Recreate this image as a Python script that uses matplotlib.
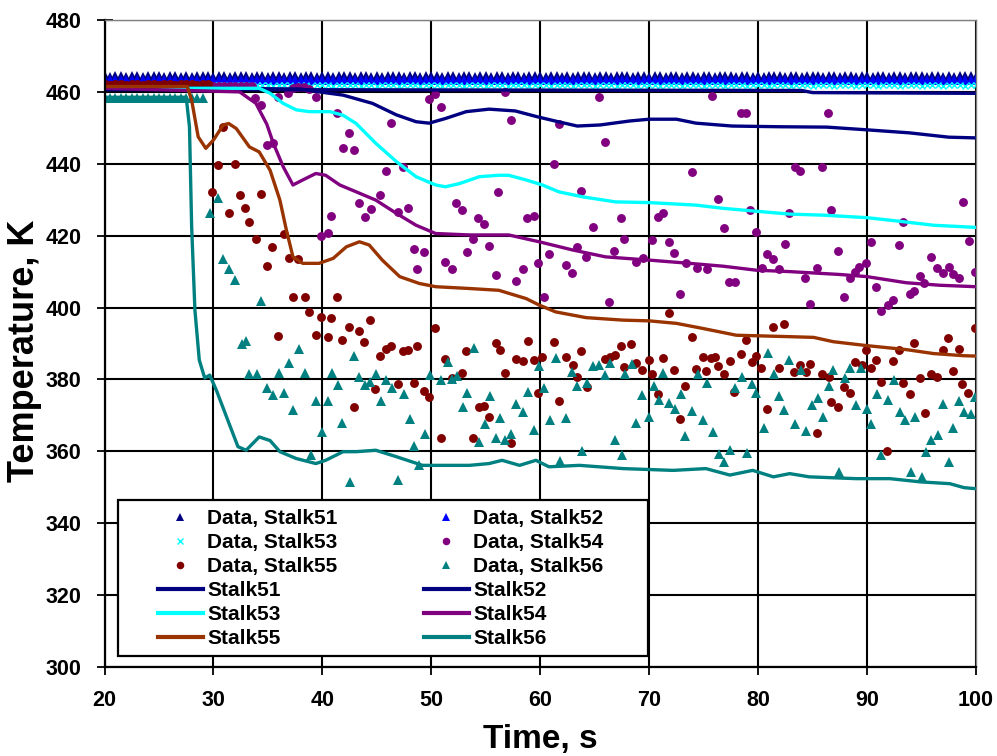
import numpy as np
import matplotlib
matplotlib.use("Agg")
import matplotlib.pyplot as plt
from matplotlib.patches import Rectangle

plt.rcParams['font.family'] = ['Liberation Sans', 'DejaVu Sans']
plt.rcParams['font.weight'] = 'bold'

# ---------------- measured thermocouple data ----------------
# steady upper band, sampled every 0.5 s from 20 s to 100 s
band_t = np.arange(20.0, 100.01, 0.5)
data51_T = [
    464.3, 464.2, 464.4, 464.3, 464.1, 464.3, 464.4, 464.2, 464.3, 464.5,
    464.3, 464.2, 464.3, 464.4, 464.2, 464.3, 464.1, 464.3, 464.4, 464.3,
    464.2, 464.4, 464.3, 464.2, 464.3, 464.5, 464.3, 464.2, 464.4, 464.3,
    464.1, 464.3, 464.4, 464.2, 464.3, 464.3, 464.2, 464.4, 464.3, 464.2,
    464.3, 464.4, 464.2, 464.3, 464.5, 464.3, 464.2, 464.3, 464.4, 464.2,
    464.3, 464.1, 464.3, 464.4, 464.3, 464.2, 464.4, 464.3, 464.2, 464.3,
    464.4, 464.3, 464.2, 464.4, 464.3, 464.1, 464.3, 464.4, 464.2, 464.3,
    464.3, 464.2, 464.4, 464.3, 464.2, 464.3, 464.4, 464.2, 464.3, 464.5,
    464.3, 464.2, 464.3, 464.4, 464.2, 464.3, 464.1, 464.3, 464.4, 464.3,
    464.2, 464.4, 464.3, 464.2, 464.3, 464.4, 464.3, 464.2, 464.4, 464.3,
    464.1, 464.3, 464.4, 464.2, 464.3, 464.3, 464.2, 464.4, 464.3, 464.2,
    464.3, 464.4, 464.2, 464.3, 464.4, 464.3, 464.2, 464.3, 464.4, 464.2,
    464.3, 464.1, 464.3, 464.4, 464.3, 464.2, 464.4, 464.3, 464.2, 464.3,
    464.4, 464.3, 464.2, 464.4, 464.3, 464.1, 464.3, 464.4, 464.2, 464.3,
    464.3, 464.2, 464.4, 464.3, 464.2, 464.3, 464.4, 464.2, 464.3, 464.4,
    464.3, 464.2, 464.3, 464.4, 464.2, 464.3, 464.1, 464.3, 464.4, 464.3,
    464.2,
]
data52_T = [
    463.3, 463.4, 463.2, 463.3, 463.4, 463.3, 463.2, 463.4, 463.3, 463.3,
    463.4, 463.2, 463.3, 463.3, 463.4, 463.2, 463.3, 463.4, 463.3, 463.2,
    463.3, 463.3, 463.4, 463.2, 463.3, 463.4, 463.3, 463.2, 463.3, 463.4,
    463.3, 463.2, 463.4, 463.3, 463.3, 463.2, 463.4, 463.3, 463.2, 463.3,
    463.4, 463.3, 463.2, 463.3, 463.4, 463.3, 463.3, 463.2, 463.4, 463.3,
    463.2, 463.3, 463.4, 463.3, 463.2, 463.3, 463.3, 463.4, 463.2, 463.3,
    463.4, 463.3, 463.2, 463.3, 463.4, 463.3, 463.2, 463.4, 463.3, 463.3,
    463.2, 463.3, 463.4, 463.3, 463.2, 463.3, 463.4, 463.3, 463.2, 463.3,
    463.3, 463.4, 463.2, 463.3, 463.4, 463.3, 463.2, 463.3, 463.4, 463.3,
    463.2, 463.4, 463.3, 463.3, 463.2, 463.3, 463.4, 463.3, 463.2, 463.3,
    463.4, 463.3, 463.2, 463.3, 463.3, 463.4, 463.2, 463.3, 463.4, 463.3,
    463.2, 463.3, 463.4, 463.3, 463.2, 463.4, 463.3, 463.3, 463.2, 463.3,
    463.4, 463.3, 463.2, 463.3, 463.4, 463.3, 463.2, 463.3, 463.3, 463.4,
    463.2, 463.3, 463.4, 463.3, 463.2, 463.3, 463.4, 463.3, 463.2, 463.4,
    463.3, 463.3, 463.2, 463.3, 463.4, 463.3, 463.2, 463.3, 463.4, 463.3,
    463.2, 463.3, 463.3, 463.4, 463.2, 463.3, 463.4, 463.3, 463.2, 463.3,
    463.4,
]
data53_T = [
    461.8, 461.9, 461.7, 461.8, 461.9, 461.8, 461.7, 461.9, 461.8, 461.8,
    461.9, 461.7, 461.8, 461.8, 461.9, 461.7, 461.8, 461.9, 461.8, 461.7,
    461.8, 461.8, 461.9, 461.7, 461.8, 461.9, 461.8, 461.7, 461.8, 461.9,
    461.8, 461.7, 461.9, 461.8, 461.8, 461.7, 461.9, 461.8, 461.7, 461.8,
    461.9, 461.8, 461.7, 461.8, 461.9, 461.8, 461.8, 461.7, 461.9, 461.8,
    461.7, 461.8, 461.9, 461.8, 461.7, 461.8, 461.8, 461.9, 461.7, 461.8,
    461.9, 461.8, 461.7, 461.8, 461.9, 461.8, 461.7, 461.9, 461.8, 461.8,
    461.7, 461.8, 461.9, 461.8, 461.7, 461.8, 461.9, 461.8, 461.7, 461.8,
    461.8, 461.9, 461.7, 461.8, 461.9, 461.8, 461.7, 461.8, 461.9, 461.8,
    461.7, 461.9, 461.8, 461.8, 461.7, 461.8, 461.9, 461.8, 461.7, 461.8,
    461.9, 461.8, 461.7, 461.8, 461.8, 461.9, 461.7, 461.8, 461.9, 461.8,
    461.7, 461.8, 461.9, 461.8, 461.7, 461.9, 461.8, 461.8, 461.7, 461.8,
    461.9, 461.8, 461.7, 461.8, 461.9, 461.8, 461.7, 461.8, 461.8, 461.9,
    461.7, 461.8, 461.9, 461.8, 461.7, 461.8, 461.9, 461.8, 461.7, 461.9,
    461.8, 461.8, 461.7, 461.8, 461.9, 461.8, 461.7, 461.8, 461.9, 461.8,
    461.7, 461.8, 461.8, 461.9, 461.7, 461.8, 461.9, 461.8, 461.7, 461.8,
    461.9,
]

# steady readings of stalks 54-56 before the transient
pre54_t = np.arange(20.0, 33.51, 0.5)
pre54_T = [461.6, 461.7, 461.5, 461.6, 461.7, 461.6, 461.5, 461.7, 461.6, 461.6,
           461.7, 461.5, 461.6, 461.6, 461.7, 461.5, 461.6, 461.7, 461.6, 461.5,
           461.6, 461.6, 461.7, 461.5, 461.6, 461.7, 461.6, 461.5]
pre55_t = np.arange(20.0, 29.51, 0.5)
pre55_T = [462.1, 462.0, 462.2, 462.1, 462.0, 462.1, 462.2, 462.0, 462.1, 462.1,
           462.0, 462.2, 462.1, 462.0, 462.1, 462.2, 462.1, 462.0, 462.1, 462.2]
pre56_t = np.arange(20.0, 29.01, 0.5)
pre56_T = [458.3, 458.4, 458.2, 458.3, 458.4, 458.3, 458.2, 458.4, 458.3, 458.3,
           458.4, 458.2, 458.3, 458.3, 458.4, 458.2, 458.3, 458.4, 458.3]

# readings during and after the transient
post54_t = [33.8, 34.4, 34.9, 35.5, 35.9, 36.8, 37.3, 37.8, 38.3, 38.8, 39.4, 39.9,
            40.5, 40.8, 41.3, 41.9, 42.4, 42.9, 43.4, 43.9, 44.5, 45.3, 45.8, 46.3,
            46.9, 47.4, 47.9, 48.4, 48.7, 49.3, 49.8, 50.3, 50.9, 51.3, 51.9, 52.3,
            52.8, 53.3, 53.8, 54.3, 54.8, 55.3, 55.9, 56.1, 56.8, 57.3, 57.8, 58.4,
            58.8, 59.4, 59.8, 60.3, 60.8, 61.3, 61.7, 62.4, 62.9, 63.4, 63.7, 64.2,
            64.8, 65.4, 65.9, 66.3, 66.8, 67.4, 67.7, 68.8, 69.4, 70.3, 70.8, 71.3,
            71.8, 72.3, 72.8, 73.4, 73.9, 74.4, 75.3, 75.8, 76.3, 76.9, 77.3, 77.9,
            78.4, 78.9, 79.3, 79.8, 80.4, 80.8, 81.4, 81.9, 82.5, 82.8, 83.4, 83.8,
            84.3, 84.8, 85.4, 85.9, 86.4, 86.7, 87.3, 87.9, 88.4, 88.9, 89.3, 89.9,
            90.4, 90.8, 91.3, 91.9, 92.4, 92.9, 93.3, 93.9, 94.3, 94.9, 95.2, 95.9,
            96.4, 97.0, 97.5, 97.9, 98.4, 98.8, 99.4, 99.9]
post54_T = [458.2, 456.3, 445.2, 445.7, 458.6, 459.8, 461.0, 461.3, 461.3, 460.8, 458.5, 419.9,
            420.8, 425.4, 454.0, 444.3, 448.6, 443.8, 429.0, 425.1, 427.3, 431.2, 438.0, 451.4,
            426.5, 439.0, 427.8, 416.4, 410.7, 415.5, 457.9, 459.4, 455.7, 412.7, 410.7, 429.1,
            427.1, 415.5, 419.2, 425.0, 423.2, 417.2, 409.0, 432.2, 460.0, 452.3, 407.4, 410.6,
            424.8, 425.4, 412.5, 403.0, 414.8, 439.9, 451.0, 411.8, 409.5, 416.9, 432.5, 414.1,
            422.5, 458.5, 446.1, 401.6, 415.7, 424.8, 419.2, 412.7, 413.7, 418.8, 425.1, 426.2,
            418.3, 415.2, 403.7, 412.3, 437.8, 411.1, 410.6, 458.8, 430.1, 422.0, 407.2, 407.2,
            454.0, 454.0, 427.1, 421.1, 411.1, 414.9, 413.5, 410.7, 417.8, 426.4, 439.0, 438.0,
            408.3, 401.0, 410.9, 439.2, 454.0, 427.1, 415.7, 403.0, 408.3, 410.0, 411.3, 412.3,
            418.3, 405.8, 399.0, 400.7, 402.2, 417.4, 423.9, 403.7, 404.7, 408.7, 406.9, 414.1,
            411.1, 409.5, 411.3, 409.2, 408.1, 429.4, 418.6, 409.9]

post55_t = [29.9, 30.4, 30.9, 31.4, 32.0, 32.4, 32.9, 33.3, 33.9, 34.4, 34.9, 35.4,
            35.9, 36.5, 36.9, 37.3, 37.8, 38.4, 38.8, 39.4, 39.9, 40.5, 40.8, 41.3,
            41.8, 42.4, 42.9, 43.4, 43.8, 44.4, 44.8, 45.3, 45.8, 46.3, 46.9, 47.4,
            47.9, 48.4, 48.7, 49.3, 49.8, 50.3, 50.9, 51.3, 51.9, 52.8, 53.2, 53.8,
            54.4, 54.8, 55.3, 55.9, 56.3, 56.8, 57.3, 57.8, 58.4, 58.9, 59.4, 59.8,
            60.2, 61.3, 61.7, 62.4, 63.0, 63.4, 63.7, 64.3, 65.9, 66.4, 66.9, 67.4,
            67.7, 68.3, 68.8, 69.3, 70.0, 70.3, 70.8, 71.3, 71.8, 72.3, 72.8, 73.3,
            73.9, 74.3, 74.9, 75.2, 75.7, 76.0, 76.3, 76.9, 77.4, 77.8, 78.4, 78.9,
            79.4, 79.8, 80.3, 80.8, 81.4, 81.9, 82.4, 83.3, 83.8, 84.4, 84.8, 85.4,
            85.9, 86.5, 86.7, 87.3, 87.9, 88.4, 88.9, 89.5, 89.9, 90.4, 90.8, 91.3,
            91.8, 92.4, 92.9, 93.3, 93.9, 94.3, 94.9, 95.3, 95.9, 96.4, 97.0, 97.4,
            97.9, 98.4, 98.7, 99.3, 99.9]
post55_T = [432.2, 439.6, 450.3, 426.4, 439.9, 431.2, 427.8, 423.9, 419.2, 431.6, 411.5, 416.9,
            392.1, 420.4, 413.7, 403.0, 413.6, 403.0, 398.8, 392.5, 397.4, 391.9, 397.0, 403.0,
            390.9, 394.6, 372.2, 393.5, 390.3, 396.6, 377.3, 386.6, 388.6, 389.3, 378.7, 387.9,
            388.1, 378.9, 389.3, 376.8, 375.2, 394.4, 363.7, 385.8, 380.3, 381.8, 387.9, 363.7,
            372.4, 372.7, 369.6, 390.2, 388.1, 381.8, 362.4, 385.6, 385.1, 390.7, 385.4, 376.1,
            386.3, 390.3, 374.0, 386.3, 384.1, 380.7, 387.9, 377.8, 385.6, 386.3, 386.8, 389.4,
            383.5, 389.8, 384.6, 382.6, 385.4, 381.5, 375.9, 386.0, 398.5, 382.6, 368.9, 378.2,
            391.9, 382.8, 386.3, 382.4, 386.0, 386.3, 383.8, 381.5, 385.2, 376.4, 387.0, 391.1,
            384.9, 386.6, 383.3, 371.9, 394.6, 383.2, 395.3, 382.1, 384.0, 382.1, 384.4, 365.0,
            381.5, 380.7, 373.8, 372.2, 377.9, 376.1, 384.9, 384.0, 388.3, 383.2, 385.4, 379.3,
            360.1, 385.2, 388.1, 378.9, 375.9, 390.2, 380.5, 370.8, 381.5, 380.7, 388.3, 391.6,
            382.4, 388.6, 378.6, 376.1, 394.4]

post56_t = [29.7, 30.4, 30.9, 31.4, 32.0, 32.6, 33.0, 33.3, 34.0, 34.4, 34.9, 35.5,
            36.0, 36.5, 36.9, 37.3, 37.9, 38.4, 39.0, 39.4, 40.0, 40.5, 40.9, 41.4,
            41.8, 42.5, 42.9, 43.4, 43.9, 44.4, 44.9, 45.4, 45.8, 46.4, 46.9, 47.5,
            48.0, 48.4, 48.9, 49.4, 49.9, 50.9, 51.5, 51.9, 52.4, 52.9, 53.3, 53.9,
            54.4, 54.9, 55.4, 55.9, 56.3, 56.8, 57.3, 57.8, 58.4, 58.9, 59.4, 59.9,
            60.3, 60.9, 61.4, 61.8, 62.4, 62.9, 63.4, 63.8, 64.3, 64.8, 65.4, 65.9,
            66.4, 66.9, 67.5, 67.8, 68.4, 68.8, 69.3, 70.0, 70.4, 70.9, 71.3, 71.8,
            72.4, 72.9, 73.3, 73.9, 74.5, 74.9, 75.3, 75.9, 76.4, 76.9, 77.4, 77.9,
            78.5, 79.0, 79.4, 79.8, 80.5, 80.9, 81.5, 81.9, 82.4, 82.8, 83.4, 83.9,
            84.4, 84.9, 85.5, 86.0, 86.5, 86.9, 87.4, 88.0, 88.4, 89.0, 89.4, 90.0,
            90.4, 90.9, 91.3, 91.9, 92.5, 93.0, 93.5, 94.0, 94.4, 95.0, 95.4, 95.9,
            96.5, 97.0, 97.5, 97.9, 98.4, 98.9, 99.5, 99.9]
post56_T = [426.4, 430.4, 413.4, 410.6, 407.8, 389.8, 390.7, 381.4, 381.4, 401.8, 377.7, 375.8,
            381.8, 376.3, 384.6, 371.6, 388.6, 381.7, 358.9, 373.9, 365.4, 373.9, 381.7, 378.4,
            367.9, 351.5, 386.6, 380.7, 378.4, 379.3, 381.6, 373.9, 379.8, 377.7, 352.0, 375.9,
            369.1, 361.5, 356.1, 364.7, 381.2, 379.8, 384.9, 380.0, 380.9, 372.4, 376.1, 388.8,
            362.6, 367.7, 375.3, 363.6, 369.4, 363.1, 364.7, 373.3, 371.0, 376.5, 365.9, 383.7,
            377.7, 368.7, 386.0, 357.3, 369.3, 382.1, 378.1, 360.0, 378.9, 383.7, 384.0, 381.2,
            384.6, 363.1, 359.1, 381.6, 384.4, 367.9, 375.6, 369.6, 378.1, 374.4, 381.8, 373.5,
            371.9, 375.9, 364.3, 371.3, 381.5, 368.8, 379.1, 365.4, 359.2, 357.1, 360.3, 377.7,
            380.7, 359.6, 378.6, 376.1, 366.6, 387.4, 381.6, 375.3, 371.4, 385.5, 367.7, 382.6,
            365.7, 372.8, 374.7, 369.6, 378.2, 382.6, 354.3, 380.5, 383.2, 372.8, 383.2, 371.7,
            367.7, 375.9, 358.9, 374.4, 379.8, 371.0, 368.8, 354.3, 369.6, 352.9, 359.8, 363.1,
            364.5, 373.3, 357.1, 366.6, 374.0, 371.0, 370.5, 375.2]

# ---------------- calculated stalk temperatures ----------------
calc51_t = [20, 30, 38, 39.7, 41.9, 44.6, 46.8, 48.6, 49.8, 51.3, 53.2, 55.3, 57.7, 59.7,
            61.5, 63.4, 65.5, 68.2, 70, 72.5, 74.3, 77.6, 82, 86.3, 90.2, 93.9, 97.5, 100]
calc51_T = [461, 461, 460.8, 460, 459.1, 456.8, 453.6, 451.7, 451.3, 452.6, 454.5, 455.2, 454.7, 453.1,
            451.8, 450.5, 450.8, 451.9, 452.4, 452.4, 451.3, 450.5, 450.3, 450.2, 449.4, 448.6, 447.4, 447.2]
calc52_t = [20, 40, 60, 84, 85, 100]
calc52_T = [460.6, 460.6, 460.5, 460.4, 459.8, 459.6]
calc53_t = [20, 34.2, 35.2, 36.4, 37.6, 38.8, 40.7, 41.9, 43.1, 44.9, 46.8, 48.6, 50.4, 51.3, 52.6,
            54.4, 56.2, 57.1, 58.7, 60.2, 61.7, 63.9, 66.9, 70.0, 74.3, 76.8, 79.8, 82.9, 86.0, 90.0,
            93.0, 96.1, 100]
calc53_T = [461, 461, 459.6, 456.8, 455, 454.5, 454.5, 453.5, 451.2, 445.7, 440.6, 436.4, 434.1, 433.6, 434.5,
            436.4, 436.8, 436.8, 435.5, 434.1, 432.2, 430.8, 429.4, 429.2, 428.5, 427.6, 426.8, 426.0, 425.7, 425.0,
            424.0, 422.9, 422.3]
calc54_t = [20, 32.4, 33.9, 34.9, 35.5, 36.4, 37.3, 38.2, 39.4, 40.3, 41.6, 43.1, 44.9, 46.8, 48.6,
            50.4, 53.5, 57.1, 59.9, 63.0, 66.0, 70.0, 73.7, 76.8, 79.8, 82.9, 87.5, 90.0, 93.6, 96.7, 100]
calc54_T = [461, 460, 456.8, 451, 445.7, 439.2, 434.1, 435.5, 437.3, 436.8, 434.1, 432.2, 429.9, 426.2, 422.9,
            420.6, 420.2, 420.2, 418.3, 416, 414.1, 413.2, 412.3, 411.5, 410.4, 410.0, 409.2, 408.6, 406.9, 406.2, 405.8]
calc55_t = [20, 27.6, 28.0, 28.6, 29.3, 30.0, 30.9, 31.4, 32.1, 33.3, 34.2, 35.2, 36.1, 36.7, 37.3,
            38.2, 39.7, 41.0, 42.2, 43.4, 44.3, 45.5, 47.1, 48.9, 50.4, 53.5, 56.2, 58.7, 59.9, 61.4,
            64.2, 67.6, 70.0, 72.5, 74.9, 78.0, 82.9, 85.1, 86.9, 90.0, 93.6, 96.1, 98.9, 100]
calc55_T = [461.5, 461.5, 457.7, 447.5, 444.3, 446.6, 450.8, 451.2, 449.8, 444.7, 443.3, 438.2, 429.9, 421.5, 414.1,
            412.3, 412.3, 413.7, 416.9, 418.3, 417.4, 413.2, 408.6, 406.7, 405.8, 405.3, 404.8, 402.5, 400.7, 398.8,
            397.2, 396.5, 396.3, 395.6, 394.2, 392.3, 391.9, 391.7, 390.5, 389.4, 388.3, 387.2, 386.6, 386.5]
calc56_t = [20, 27.5, 27.8, 28.0, 28.3, 28.7, 29.2, 29.66, 30.27, 31.2, 32.25, 33.0, 34.2, 35.2, 36.1,
            37.6, 39.4, 40.3, 41.9, 43.1, 44.9, 46.8, 49.2, 51.3, 53.5, 55.3, 56.5, 58.1, 59.6, 60.8,
            63.6, 67.6, 72.2, 75.2, 77.4, 79.5, 81.4, 82.9, 84.7, 89.0, 92.1, 94.9, 97.6, 98.9, 100]
calc56_T = [458.5, 458.5, 450.3, 422.5, 399.3, 385.4, 380.4, 381.2, 377, 369.6, 361.3, 360.3, 364, 363, 359.9,
            358, 356.6, 357.5, 359.9, 359.9, 360.3, 358.5, 356.1, 356.1, 356.1, 356.6, 357.5, 356.1, 357.5, 355.7,
            356.1, 355.2, 354.7, 355.2, 353.4, 354.7, 352.9, 353.8, 352.9, 352.4, 352.4, 351.5, 351.0, 349.9, 349.6]

x_ticks = [20, 30, 40, 50, 60, 70, 80, 90, 100]
y_ticks = [300, 320, 340, 360, 380, 400, 420, 440, 460, 480]

NAVY, BLUE, CYAN = '#000080', '#0000FF', '#00FFFF'
PURPLE, DKRED, TEAL, BROWN = '#800080', '#800000', '#008080', '#993300'

W, H = 997, 756
fig = plt.figure(figsize=(W / 100, H / 100), dpi=100)
ax = fig.add_axes([104.5 / W, 1 - 667 / H, (976 - 104.5) / W, (667 - 20) / H])

tri = dict(marker='^', linestyle='none', markersize=7.5, markeredgewidth=0)
dot = dict(marker='o', linestyle='none', markersize=6.4, markeredgewidth=0)

h_d51, = ax.plot(band_t, data51_T, color=NAVY, **tri)
h_d52, = ax.plot(band_t, data52_T, color=BLUE, **tri)
h_d53, = ax.plot(band_t, data53_T, color=CYAN, marker='x', linestyle='none',
                 markersize=4.5, markeredgewidth=1.0)
h_d54, = ax.plot(np.concatenate([pre54_t, post54_t]), pre54_T + post54_T, color=PURPLE, **dot)
h_d55, = ax.plot(np.concatenate([pre55_t, post55_t]), pre55_T + post55_T, color=DKRED, **dot)
h_d56, = ax.plot(np.concatenate([pre56_t, post56_t]), pre56_T + post56_T, color=TEAL, **tri)

lw = 2.4
h_l51, = ax.plot(calc51_t, calc51_T, color=NAVY, lw=lw)
h_l52, = ax.plot(calc52_t, calc52_T, color=NAVY, lw=lw)
h_l53, = ax.plot(calc53_t, calc53_T, color=CYAN, lw=lw)
h_l54, = ax.plot(calc54_t, calc54_T, color=PURPLE, lw=lw)
h_l55, = ax.plot(calc55_t, calc55_T, color=BROWN, lw=lw)
h_l56, = ax.plot(calc56_t, calc56_T, color=TEAL, lw=lw)

ax.set_xlim(20, 100)
ax.set_ylim(300, 480)
ax.set_xticks(x_ticks)
ax.set_yticks(y_ticks)
ax.set_axisbelow(True)
ax.grid(True, color='black', lw=1.5)

for s in ('left', 'bottom'):
    ax.spines[s].set_color('black')
    ax.spines[s].set_linewidth(1.6)
for s in ('top', 'right'):
    ax.spines[s].set_color('#808080')
    ax.spines[s].set_linewidth(1.0)

ax.tick_params(axis='both', direction='inout', length=11.5, width=1.3, pad=11, labelsize=15.5)
for lab in ax.get_xticklabels() + ax.get_yticklabels():
    lab.set_fontweight('bold')

ax.set_xlabel('Time, s', fontsize=24, fontweight='bold', labelpad=9)
ax.set_ylabel('Temperature, K', fontsize=26, fontweight='bold')
ax.yaxis.set_label_coords((42 - 104.5) / 871.5, (667 - 351) / 647)

# legend box with two hand-placed columns
x0, x1 = (118 - 104.5) / 871.5, (648 - 104.5) / 871.5
y1, y0 = (667 - 500) / 647, (667 - 656) / 647
ax.add_patch(Rectangle((x0, y0), x1 - x0, y1 - y0, transform=ax.transAxes,
                       facecolor='white', edgecolor='black', lw=1.6, zorder=5))

leg_kw = dict(loc='upper left', frameon=False, borderpad=0, borderaxespad=0,
              handlelength=2.15, handletextpad=0.2, labelspacing=0.24, numpoints=1,
              markerscale=0.85,
              prop=dict(family='Liberation Sans', weight='bold', size=15),
              bbox_transform=fig.transFigure)
col1 = [h_d51, h_d53, h_d55, h_l51, h_l53, h_l55]
lab1 = ['Data, Stalk51', 'Data, Stalk53', 'Data, Stalk55', 'Stalk51', 'Stalk53', 'Stalk55']
col2 = [h_d52, h_d54, h_d56, h_l52, h_l54, h_l56]
lab2 = ['Data, Stalk52', 'Data, Stalk54', 'Data, Stalk56', 'Stalk52', 'Stalk54', 'Stalk56']
leg1 = ax.legend(col1, lab1, bbox_to_anchor=(158 / W, 1 - 509 / H), **leg_kw)
leg1.set_zorder(6)
ax.add_artist(leg1)
leg2 = ax.legend(col2, lab2, bbox_to_anchor=(424 / W, 1 - 509 / H), **leg_kw)
leg2.set_zorder(6)
for leg in (leg1, leg2):
    for ln in leg.get_lines():
        if ln.get_linestyle() != 'None':
            ln.set_linewidth(3.0)

fig.savefig('out.png', dpi=100)
